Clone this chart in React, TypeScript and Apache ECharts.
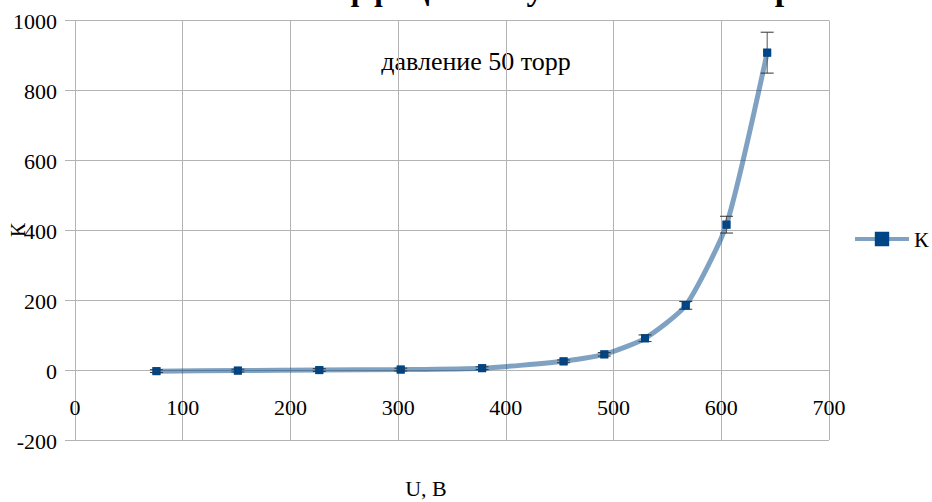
import React, { useEffect, useRef } from "react";
import * as echarts from "echarts";

// Data
const voltages = [75.6, 151.2, 226.8, 302.4, 378, 453.6, 491.4, 529.2, 567, 604.8, 642.6];
const kValues = [-3, -1.5, 0, 1.5, 5.5, 25, 45, 91, 185, 416, 908];
const kErrors = [4, 4, 4, 4, 4, 4, 5, 9.5, 11, 24, 58.5];
const xTicks = [0, 100, 200, 300, 400, 500, 600, 700];
const yTicks = [-200, 0, 200, 400, 600, 800, 1000];

const seriesName = "К";
const titleText = "Кривая зависимости коэффициента усиления от напряжения";
const noteText = "давление 50 торр";
const xName = "U, В";
const yName = "К";

const FONT = "'Liberation Serif', 'Times New Roman', serif";

export default function App() {
  const ref = useRef<HTMLDivElement>(null);

  useEffect(() => {
    if (!ref.current) return;
    const chart = echarts.init(ref.current, undefined, { renderer: "svg" });

    const points = voltages.map((v, i) => [v, kValues[i]]);
    const errData = voltages.map((v, i) => [v, kValues[i] - kErrors[i], kValues[i] + kErrors[i]]);
    const xTickData = xTicks.map((t) => [t, 0]);
    const yTickData = yTicks.map((t) => [0, t]);

    const txt = (text: string, size: number, align: string = "center", weight: string = "") => ({
      text,
      font: `${weight ? weight + " " : ""}${size}px ${FONT}`,
      fill: "#000",
      textAlign: align,
      textVerticalAlign: "middle",
    });

    chart.setOption({
      animation: false,
      backgroundColor: "#ffffff",
      textStyle: { fontFamily: FONT },
      grid: { left: 75, right: 103, top: 20.5, bottom: 62, containLabel: false },
      legend: {
        data: [seriesName],
        left: 848,
        top: 223,
        itemWidth: 54,
        itemHeight: 18,
        lineStyle: { width: 4, color: "rgba(0,69,134,0.5)" },
        textStyle: { fontFamily: FONT, fontSize: 22, color: "#000" },
      },
      xAxis: {
        type: "value",
        min: 0,
        max: 700,
        interval: 100,
        axisLine: { show: true, lineStyle: { color: "#b3b3b3", width: 1 } },
        axisTick: { show: false },
        splitLine: { show: true, lineStyle: { color: "#b3b3b3", width: 1 } },
        axisLabel: { show: false },
      },
      yAxis: {
        type: "value",
        min: -200,
        max: 1000,
        interval: 200,
        axisLine: { show: true, onZero: false, lineStyle: { color: "#b3b3b3", width: 1 } },
        axisTick: { show: true, length: 10, lineStyle: { color: "#b3b3b3" } },
        splitLine: { show: true, lineStyle: { color: "#b3b3b3", width: 1 } },
        axisLabel: { show: false },
      },
      graphic: [
        { type: "text", x: -36, y: -11.5, style: txt(titleText, 34, "left", "bold") },
        { type: "text", x: 476, y: 61, style: txt(noteText, 26) },
        { type: "text", x: 426, y: 488, style: txt(xName, 22) },
        { type: "text", x: 18, y: 230, rotation: Math.PI / 2, style: txt(yName, 21) },
      ],
      series: [
        {
          name: seriesName,
          type: "line",
          data: points,
          smooth: 0.2,
          symbol: "rect",
          symbolSize: 8,
          lineStyle: { color: "rgba(0,69,134,0.5)", width: 5 },
          itemStyle: { color: "#004586" },
          z: 2,
        },
        {
          name: "err",
          type: "custom",
          data: errData,
          z: 3,
          silent: true,
          renderItem: (params: any, api: any) => {
            const x = api.value(0);
            const lo = api.coord([x, api.value(1)]);
            const hi = api.coord([x, api.value(2)]);
            const h = 6.5;
            const st = { stroke: "#333", lineWidth: 1 };
            return {
              type: "group",
              children: [
                { type: "line", shape: { x1: hi[0], y1: hi[1], x2: lo[0], y2: lo[1] }, style: { stroke: "#555", lineWidth: 1 } },
                { type: "line", shape: { x1: hi[0] - h, y1: hi[1], x2: hi[0] + h, y2: hi[1] }, style: st },
                { type: "line", shape: { x1: lo[0] - h, y1: lo[1], x2: lo[0] + h, y2: lo[1] }, style: st },
              ],
            };
          },
        },
        {
          name: "markers",
          type: "scatter",
          data: points,
          symbol: "rect",
          symbolSize: 8,
          itemStyle: { color: "#004586" },
          z: 4,
          silent: true,
        },
        {
          name: "xlabels",
          type: "custom",
          data: xTickData,
          z: 5,
          silent: true,
          clip: false,
          renderItem: (params: any, api: any) => {
            const p = api.coord([api.value(0), api.value(1)]);
            return { type: "text", x: p[0], y: p[1] + 37, style: txt(String(api.value(0)), 22) };
          },
        },
        {
          name: "ylabels",
          type: "custom",
          data: yTickData,
          z: 5,
          silent: true,
          clip: false,
          renderItem: (params: any, api: any) => {
            const p = api.coord([api.value(0), api.value(1)]);
            return { type: "text", x: p[0] - 18, y: p[1] + 1, style: txt(String(api.value(1)), 22, "right") };
          },
        },
      ],
    });

    return () => chart.dispose();
  }, []);

  return (
    <div
      ref={ref}
      style={{ position: "absolute", left: 0, top: 0, width: 932, height: 502 }}
    />
  );
}
